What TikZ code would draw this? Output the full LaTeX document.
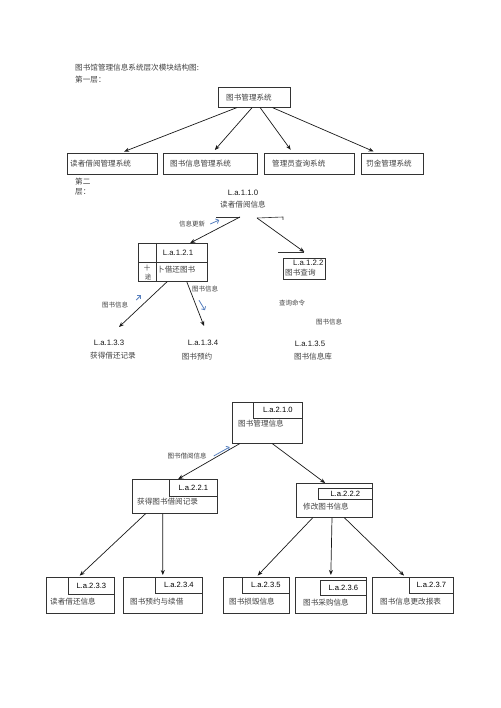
\documentclass[tikz,border=0pt]{standalone}
\usepackage{fontspec}
\setmainfont{Noto Sans CJK SC}
\newfontfamily\labfont{Liberation Sans}
\usetikzlibrary{arrows.meta,positioning,calc}
\definecolor{hintblue}{RGB}{88,128,190}

\begin{document}
\begin{tikzpicture}[x=1pt,y=-1pt,>={Stealth[length=5pt,width=4pt]},
  box/.style={draw=black!80,line width=0.6pt,inner sep=0pt,anchor=north west},
  inbox/.style={draw=black!80,line width=0.6pt,inner sep=0pt,anchor=north east,font=\labfont\fontsize{7.6}{9}\selectfont},
  txt/.style={inner sep=0pt,text=black!75,font=\fontsize{7.6}{10}\selectfont},
  lab/.style={inner sep=0pt,text=black!90,font=\labfont\fontsize{7.8}{9}\selectfont},
  arr/.style={->,line width=0.7pt,black!90},
  stub/.style={line width=0.6pt,black!80},
  hint/.style={-{Straight Barb[length=2.5pt]},line width=0.8pt,hintblue}]
  \useasboundingbox (0,0) rectangle (500,708);
  % header
  \node[txt,anchor=west] (title) at (75,68) {图书馆管理信息系统层次模块结构图:};
  \node[txt,anchor=west] (lv1) at (75,80) {第一层：};

  % first layer
  \node[box,minimum width=72pt,minimum height=20pt] (sys) at (218,87) {};
  \node[txt,right=8pt of sys.west] {图书管理系统};
  \node[box,minimum width=90pt,minimum height=21pt] (s1) at (67,153) {};
  \node[txt,right=3pt of s1.west] {读者借阅管理系统};
  \node[box,minimum width=94pt,minimum height=21pt] (s2) at (163,153) {};
  \node[txt,right=7pt of s2.west] {图书信息管理系统};
  \node[box,minimum width=90pt,minimum height=21pt] (s3) at (264,153) {};
  \node[txt,right=8pt of s3.west] {管理员查询系统};
  \node[box,minimum width=62pt,minimum height=21pt] (s4) at (361,153) {};
  \node[txt,right=5pt of s4.west] {罚金管理系统};
  \draw[arr,shorten >=4pt] ($(sys.south west)!0.26!(sys.south east)$) -- ($(s1.north west)!0.59!(s1.north east)$);
  \draw[arr,shorten >=4pt] ($(sys.south west)!0.47!(sys.south east)$) -- ($(s2.north west)!0.52!(s2.north east)$);
  \draw[arr,shorten >=4pt] ($(sys.south west)!0.58!(sys.south east)$) -- ($(s3.north west)!0.32!(s3.north east)$);
  \draw[arr,shorten >=4pt] ($(sys.south west)!0.75!(sys.south east)$) -- ($(s4.north west)!0.26!(s4.north east)$);

  % second layer
  \node[txt,anchor=north west,align=left] (lv2) at (75,178) {第二\\层：};
  \node[lab] (m110) at (243,193) {L.a.1.1.0};
  \node[txt] (m110t) at (243,205) {读者借阅信息};
  \coordinate (ka) at (216,217);
  \coordinate (kb) at (240,217);
  \coordinate (kc) at (257,218);
  \coordinate (kd) at (283,217);
  \draw[stub] (ka) -- (kb);
  \draw[stub] (kc) -- (kd) -- ++(0,3);
  \node[box,minimum width=69pt,minimum height=38pt] (m121) at (138,243) {};
  \draw[stub] ($(m121.north west)+(18,0)$) -- ($(m121.south west)+(18,0)$);
  \draw[stub] (m121.west) -- (m121.east);
  \node[lab] (m121l) at (178,253) {L.a.1.2.1};
  \node[txt,anchor=west] (m121t) at (157,270) {卜借还图书};
  \node[txt,font=\fontsize{6.5}{7}\selectfont] at (147,268) {十};
  \node[txt,font=\fontsize{6.5}{7}\selectfont] at (148,277) {途};
  \node[box,minimum width=42pt,minimum height=21pt] (m122) at (283,258) {};
  \node[lab,anchor=north east] (m122l) at ($(m122.north east)+(-2,2)$) {L.a.1.2.2};
  \node[txt,anchor=west] (m122t) at (285,273) {图书查询};
  \draw[stub] ($(m122.north)+(-26,-6)$) -- ($(m122.north)+(0,-6)$);
  \draw[arr] (kb) -- ($(m121.north west)!0.75!(m121.north east)$);
  \draw[arr] (kc) -- ($(m122.north)+(0,-6)$);
  \node[txt,font=\fontsize{6.5}{8}\selectfont] (h0) at (192,224) {信息更新};
  \draw[hint] ($(h0.east)+(5,0)$) -- ++(9,-4);

  \coordinate (e133) at (119,327);
  \coordinate (e134) at (204,326);
  \draw[arr] ($(m121.south west)!0.42!(m121.south east)$) -- (e133);
  \draw[arr] ($(m121.south west)!0.70!(m121.south east)$) -- (e134);
  \node[txt,font=\fontsize{6.5}{8}\selectfont] (h1) at (115,305) {图书信息};
  \draw[hint] ($(h1.east)+(8,-5)$) -- ++(5,-5);
  \node[txt,font=\fontsize{6.5}{8}\selectfont] (h2) at (205,289) {图书信息};
  \draw[hint] ($(h2.south)+(-6,8)$) -- ++(6,10);
  \node[txt,font=\fontsize{6.5}{8}\selectfont] (q1) at (292,303) {查询命令};
  \node[txt,font=\fontsize{6.5}{8}\selectfont] (q2) at (329,322) {图书信息};

  \node[lab] (m133) at (109,343) {L.a.1.3.3};
  \node[txt] (m133t) at (113,356) {获得借还记录};
  \node[lab] (m134) at (203,343) {L.a.1.3.4};
  \node[txt] (m134t) at (197,357) {图书预约};
  \node[lab] (m135) at (310,344) {L.a.1.3.5};
  \node[txt] (m135t) at (313,357) {图书信息库};

  % third part
  \node[box,minimum width=70pt,minimum height=41pt] (m210) at (232,402) {};
  \node[inbox,minimum width=49pt,minimum height=16pt] (m210l) at (m210.north east) {L.a.2.1.0};
  \node[txt,anchor=west] (m210t) at (238,424) {图书管理信息};

  \node[box,minimum width=85pt,minimum height=34pt] (m221) at (132,479) {};
  \node[inbox,minimum width=48pt,minimum height=17pt] (m221l) at (m221.north east) {L.a.2.2.1};
  \node[txt,anchor=west] (m221t) at (137,502) {获得图书借阅记录};

  \node[box,minimum width=76pt,minimum height=34pt] (m222) at (296,483) {};
  \node[inbox,minimum width=54pt,minimum height=11pt] (m222l) at ($(m222.north east)+(0,5)$) {L.a.2.2.2};
  \node[txt,anchor=west] (m222t) at (303,507) {修改图书信息};

  \draw[arr] ($(m210.south west)!0.11!(m210.south east)$) -- ($(m221.north west)!0.54!(m221.north east)$);
  \draw[arr] ($(m210.south west)!0.57!(m210.south east)$) -- ($(m222.north west)!0.38!(m222.north east)$);
  \node[txt,font=\fontsize{6.5}{8}\selectfont] (h3) at (187,456) {图书借阅信息};
  \draw[hint] ($(h3.east)+(7,0)$) -- ++(16,-9);

  \node[box,minimum width=68pt,minimum height=36pt] (b233) at (46,577) {};
  \node[inbox,minimum width=46pt,minimum height=17pt] (b233l) at (b233.north east) {L.a.2.3.3};
  \node[txt,anchor=west] (b233t) at (50,602) {读者借还信息};
  \node[box,minimum width=79pt,minimum height=36pt] (b234) at (123,577) {};
  \node[inbox,minimum width=47pt,minimum height=16pt] (b234l) at (b234.north east) {L.a.2.3.4};
  \node[txt,anchor=west] (b234t) at (130,602) {图书预约与续借};
  \node[box,minimum width=66pt,minimum height=36pt] (b235) at (223,577) {};
  \node[inbox,minimum width=47pt,minimum height=16pt] (b235l) at (b235.north east) {L.a.2.3.5};
  \node[txt,anchor=west] (b235t) at (229,602) {图书损毁信息};
  \node[box,minimum width=71pt,minimum height=36pt] (b236) at (295,577) {};
  \node[inbox,minimum width=46pt,minimum height=15pt] (b236l) at ($(b236.north east)+(0,3)$) {L.a.2.3.6};
  \node[txt,anchor=west] (b236t) at (303,603) {图书采购信息};
  \node[box,minimum width=81pt,minimum height=36pt] (b237) at (372,577) {};
  \node[inbox,minimum width=44pt,minimum height=16pt] (b237l) at (b237.north east) {L.a.2.3.7};
  \node[txt,anchor=west] (b237t) at (380,602) {图书信息更改报表};

  \draw[arr,shorten >=2pt] ($(m221.south west)!0.16!(m221.south east)$) -- ($(b233.north west)!0.47!(b233.north east)$);
  \draw[arr,shorten >=2pt] ($(m221.south west)!0.36!(m221.south east)$) -- (b234.north);
  \draw[arr,shorten >=2pt] ($(m222.south west)!0.22!(m222.south east)$) -- (b235.north);
  \draw[arr,shorten >=2pt] ($(m222.south west)!0.47!(m222.south east)$) -- (b236.north);
  \draw[arr,shorten >=2pt] ($(m222.south west)!0.63!(m222.south east)$) -- ($(b237.north west)!0.41!(b237.north east)$);
\end{tikzpicture}
\end{document}
